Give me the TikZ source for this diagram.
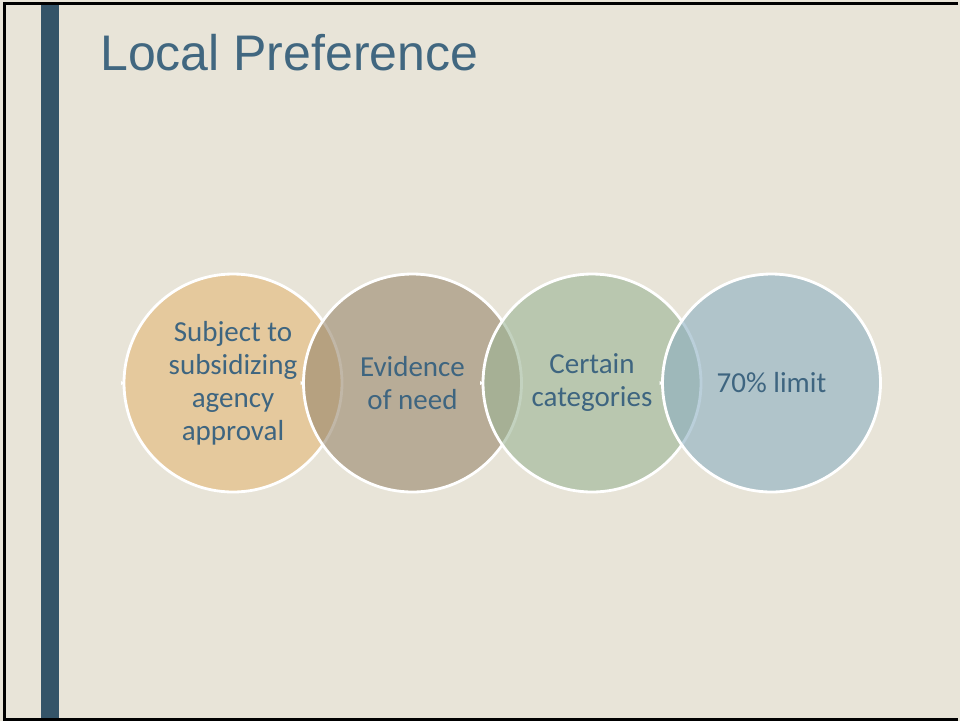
\documentclass[tikz,border=0pt]{standalone}
\usepackage{fontspec}
\setmainfont{Carlito}
\newfontfamily\titlefont{Liberation Sans}
\usetikzlibrary{positioning}
\definecolor{slidebg}{RGB}{232, 228, 216}
\definecolor{sidebar}{RGB}{52, 84, 104}
\definecolor{heading}{RGB}{65, 103, 128}
\definecolor{label}{RGB}{62, 101, 128}
\definecolor{approval}{RGB}{227, 183, 118}
\definecolor{need}{RGB}{152, 135, 109}
\definecolor{categ}{RGB}{155, 180, 149}
\definecolor{limit}{RGB}{140, 175, 194}

\begin{document}
\begin{tikzpicture}[
    x=1pt, y=-1pt,
    step circle/.style={
        circle, fill=#1, fill opacity=0.6, text opacity=1,
        draw=white, draw opacity=1, line width=2.8pt,
        minimum size=218pt, inner sep=0pt, outer sep=0pt,
        text=label, align=center,
        font=\fontsize{29}{33}\selectfont,
    },
    notch/.style={fill=white, draw=none},
]

% --- Slide background and frame ---
\fill[slidebg] (0,0) rectangle (960,721);
\draw[black, line width=3pt] (958,3) -- (4,3) -- (4,719) -- (958,719);
\fill[sidebar] (41,4.5) rectangle (59,717.5);

% --- Title ---
\node[font=\titlefont\fontsize{50}{60}\selectfont, text=heading,
      anchor=base west, inner sep=0pt] (title) at (100,70) {Local Preference};

% --- Overlapping circles, left to right ---
\node[step circle=approval] (approval) at (233,383)
    {Subject to\\subsidizing\\agency\\approval};
\node[step circle=need, right=-38.5pt of approval] (need)
    {Evidence\\of need};
\node[step circle=categ, right=-38.5pt of need] (categ)
    {Certain\\categories};
\node[step circle=limit, right=-38.5pt of categ] (limit)
    {70\% limit};

% --- Small white notches on the left rim ---
\foreach \c in {approval, need, categ, limit} {
    \fill[notch] ([xshift=1pt]\c.west) -- ++(-4,-2) -- ++(0,4) -- cycle;
}

\end{tikzpicture}
\end{document}
